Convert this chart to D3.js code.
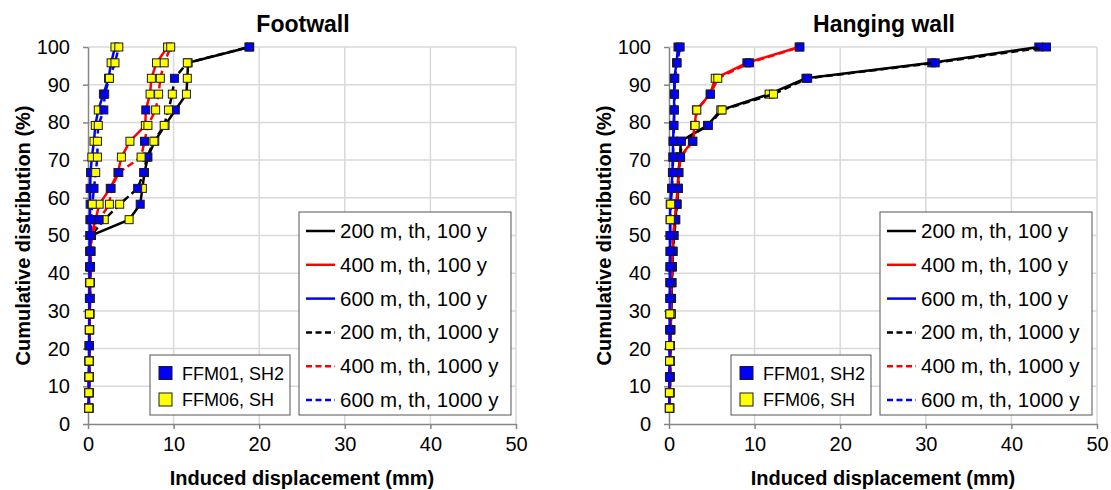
<!DOCTYPE html>
<html>
<head>
<meta charset="utf-8">
<script src="https://cdnjs.cloudflare.com/ajax/libs/d3/7.8.5/d3.min.js"></script>
<style>
body { margin: 0; background: #fff; }
svg { font-family: Arial, "Liberation Sans", sans-serif; }
</style>
</head>
<body>
<script>
// cumulative distribution (%), one level per ranked fracture
var levels = [4.2, 8.3, 12.5, 16.7, 20.8, 25, 29.2, 33.3, 37.5, 41.7, 45.8, 50,
	54.2, 58.3, 62.5, 66.7, 70.8, 75, 79.2, 83.3, 87.5, 91.7, 95.8, 100];

var seriesNames = ["200 m, th, 100 y", "400 m, th, 100 y", "600 m, th, 100 y",
	"200 m, th, 1000 y", "400 m, th, 1000 y", "600 m, th, 1000 y"];
var domainNames = ["FFM01, SH2", "FFM06, SH"];
var xTicks = [0, 10, 20, 30, 40, 50];
var yTicks = [0, 10, 20, 30, 40, 50, 60, 70, 80, 90, 100];

// Footwall - induced displacement (mm)
var fw200_100  = [0.1, 0.12, 0.14, 0.15, 0.17, 0.19, 0.2, 0.22, 0.24, 0.27, 0.3, 0.35, 4.8, 6.1, 6.35, 6.6, 7.0, 7.8, 9.0, 10.2, 11.5, 11.6, 11.7, 18.9];
var fw400_100  = [0.09, 0.11, 0.13, 0.14, 0.16, 0.18, 0.2, 0.23, 0.26, 0.29, 0.32, 0.35, 0.9, 1.3, 2.6, 3.5, 3.9, 4.9, 6.7, 6.75, 7.25, 7.4, 8.0, 9.3];
var fw600_100  = [0.08, 0.1, 0.11, 0.12, 0.13, 0.14, 0.15, 0.16, 0.17, 0.18, 0.19, 0.2, 0.22, 0.25, 0.25, 0.3, 0.45, 0.7, 0.85, 1.2, 1.8, 2.4, 2.7, 3.15];
var fw200_1000 = [0.1, 0.11, 0.13, 0.15, 0.16, 0.18, 0.2, 0.22, 0.25, 0.28, 0.32, 0.36, 1.9, 3.7, 5.8, 6.5, 6.9, 7.7, 8.9, 9.4, 9.85, 10.1, 11.6, 18.8];
var fw400_1000 = [0.1, 0.12, 0.13, 0.15, 0.17, 0.19, 0.21, 0.23, 0.26, 0.3, 0.34, 0.4, 1.3, 2.5, 2.7, 3.6, 6.2, 6.6, 7.0, 7.9, 8.25, 8.45, 8.9, 9.66];
var fw600_1000 = [0.09, 0.1, 0.12, 0.13, 0.15, 0.16, 0.18, 0.2, 0.22, 0.24, 0.27, 0.3, 0.35, 0.5, 0.7, 0.9, 1.1, 1.1, 1.2, 1.85, 1.95, 2.5, 3.15, 3.6];

// Hanging wall - induced displacement (mm)
var hw200_100  = [0.08, 0.1, 0.12, 0.14, 0.17, 0.2, 0.24, 0.28, 0.33, 0.38, 0.45, 0.55, 0.75, 0.9, 1.05, 1.1, 1.3, 1.37, 4.5, 6.05, 11.7, 16.0, 30.7, 43.2];
var hw400_100  = [0.07, 0.09, 0.11, 0.13, 0.15, 0.18, 0.21, 0.25, 0.29, 0.34, 0.4, 0.5, 0.65, 0.85, 1.0, 1.1, 1.3, 2.73, 3.0, 3.2, 4.8, 5.4, 9.1, 15.2];
var hw600_100  = [0.03, 0.04, 0.05, 0.06, 0.07, 0.08, 0.09, 0.1, 0.1, 0.11, 0.12, 0.12, 0.13, 0.14, 0.3, 0.4, 0.45, 0.47, 0.55, 0.6, 0.6, 0.62, 0.88, 1.05];
var hw200_1000 = [0.09, 0.11, 0.13, 0.15, 0.18, 0.21, 0.25, 0.3, 0.35, 0.4, 0.48, 0.6, 0.8, 0.95, 1.1, 1.15, 1.35, 1.45, 4.6, 6.2, 12.2, 16.2, 31.1, 44.1];
var hw400_1000 = [0.08, 0.1, 0.12, 0.14, 0.16, 0.19, 0.22, 0.26, 0.3, 0.36, 0.42, 0.52, 0.7, 0.9, 1.05, 1.15, 1.35, 2.8, 3.05, 3.25, 4.85, 5.7, 9.4, 15.3];
var hw600_1000 = [0.04, 0.05, 0.06, 0.07, 0.08, 0.09, 0.1, 0.11, 0.12, 0.12, 0.13, 0.14, 0.15, 0.2, 0.35, 0.42, 0.48, 0.5, 0.58, 0.62, 0.65, 0.68, 0.95, 1.3];

// fracture domain of each ranked point: 1 = FFM01, 6 = FFM06
var fw200_100Dom  = "666166161611616116616661";
var fw400_100Dom  = "666616166111161166616666";
var fw600_100Dom  = "666616616111111166661666";
var fw200_1000Dom = "666166161611661116666161";
var fw400_1000Dom = "666616166111161161666666";
var fw600_1000Dom = "666616616111161666611666";

var hw200_100Dom  = "661661611111111111166111";
var hw400_100Dom  = "661661611111111111661611";
var hw600_100Dom  = "661661611111661111111111";
var hw200_1000Dom = "661661611111111111166111";
var hw400_1000Dom = "661661611111111111661611";
var hw600_1000Dom = "661661611111661111111111";

var lineColors = ["#000000", "#ff0000", "#0000ff", "#000000", "#ff0000", "#0000ff"];
var lineDash = [null, null, null, "7,4", "7,4", "7,4"];
var domFill = {"1": "#0000ff", "6": "#ffff00"};

var w = 1111;
var h = 490;

var svg = d3.select("body")
	.append("svg")
	.attr("width", w)
	.attr("height", h);

svg.append("rect").attr("width", w).attr("height", h).attr("fill", "#fff");

function drawPanel(left, title, xs, doms) {
	var x = d3.scaleLinear().domain([0, 50]).range([left, left + 428]);
	var y = d3.scaleLinear().domain([0, 100]).range([424, 47]);

	var g = svg.append("g");

	// grid
	g.selectAll("line.gx")
		.data(xTicks.slice(1))
		.enter()
		.append("line")
		.attr("x1", function(d) { return x(d); })
		.attr("x2", function(d) { return x(d); })
		.attr("y1", y(0))
		.attr("y2", y(100))
		.attr("stroke", "#d9d9d9")
		.attr("stroke-width", 1.5);

	g.selectAll("line.gy")
		.data(yTicks.slice(1))
		.enter()
		.append("line")
		.attr("x1", x(0))
		.attr("x2", x(50))
		.attr("y1", function(d) { return y(d); })
		.attr("y2", function(d) { return y(d); })
		.attr("stroke", "#d9d9d9")
		.attr("stroke-width", 1.5);

	// axes
	var yAxis = g.append("g")
		.attr("transform", "translate(" + x(0) + ",0)")
		.call(d3.axisLeft(y).tickValues(yTicks).tickSize(5).tickSizeOuter(0).tickPadding(13));
	var xAxis = g.append("g")
		.attr("transform", "translate(0," + y(0) + ")")
		.call(d3.axisBottom(x).tickValues(xTicks).tickSize(5).tickSizeOuter(0).tickPadding(8));

	[yAxis, xAxis].forEach(function(a) {
		a.select(".domain").attr("stroke", "#868686").attr("stroke-width", 1.5);
		a.selectAll(".tick line").attr("stroke", "#868686").attr("stroke-width", 1.5);
		a.selectAll(".tick text")
			.attr("fill", "#000")
			.style("font-size", "20px")
			.style("font-family", "Arial, 'Liberation Sans', sans-serif");
	});

	// series: line first, then its markers
	var line = d3.line()
		.x(function(d) { return x(d[0]); })
		.y(function(d) { return y(d[1]); });

	xs.forEach(function(vals, i) {
		var pts = vals.map(function(v, k) { return [v, levels[k], doms[i].charAt(k)]; });
		g.append("path")
			.datum(pts)
			.attr("fill", "none")
			.attr("stroke", lineColors[i])
			.attr("stroke-width", 2.5)
			.attr("stroke-dasharray", lineDash[i])
			.attr("d", line);
		g.selectAll("rect.m" + i)
			.data(pts)
			.enter()
			.append("rect")
			.attr("x", function(d) { return x(d[0]) - 4; })
			.attr("y", function(d) { return y(d[1]) - 4; })
			.attr("width", 8)
			.attr("height", 8)
			.attr("fill", function(d) { return domFill[d[2]]; })
			.attr("stroke", "#1a1a1a")
			.attr("stroke-width", 1);
	});

	// titles
	var cx = (x(0) + x(50)) / 2;
	g.append("text")
		.attr("x", cx + 1)
		.attr("y", 32)
		.attr("text-anchor", "middle")
		.style("font-size", "23px")
		.style("font-weight", "bold")
		.text(title);
	g.append("text")
		.attr("x", cx)
		.attr("y", 485)
		.attr("text-anchor", "middle")
		.style("font-size", "20px")
		.style("font-weight", "bold")
		.text("Induced displacement (mm)");
	g.append("text")
		.attr("transform", "translate(" + (x(0) - 65) + "," + y(50) + ") rotate(-90)")
		.attr("dy", "0.35em")
		.attr("text-anchor", "middle")
		.style("font-size", "20px")
		.style("font-weight", "bold")
		.text("Cumulative distribution (%)");

	// line legend
	var lg = g.append("g").attr("transform", "translate(" + (x(0) + 211) + ",212)");
	lg.append("rect")
		.attr("width", 212)
		.attr("height", 203)
		.attr("fill", "#fff")
		.attr("stroke", "#555")
		.attr("stroke-width", 1);
	seriesNames.forEach(function(name, i) {
		var ly = 19 + i * 33.8;
		lg.append("line")
			.attr("x1", 7).attr("x2", 36)
			.attr("y1", ly).attr("y2", ly)
			.attr("stroke", lineColors[i])
			.attr("stroke-width", 2.5)
			.attr("stroke-dasharray", lineDash[i] ? "6,3.5" : null);
		lg.append("text")
			.attr("x", 41)
			.attr("y", ly + 7)
			.style("font-size", "20.5px")
			.text(name);
	});

	// domain legend
	var dg = g.append("g").attr("transform", "translate(" + (x(0) + 62) + ",355)");
	dg.append("rect")
		.attr("width", 140)
		.attr("height", 60)
		.attr("fill", "#fff")
		.attr("stroke", "#555")
		.attr("stroke-width", 1);
	domainNames.forEach(function(name, i) {
		var ly = 18 + i * 26.5;
		dg.append("rect")
			.attr("x", 9).attr("y", ly - 6.5)
			.attr("width", 13).attr("height", 13)
			.attr("fill", i === 0 ? domFill["1"] : domFill["6"])
			.attr("stroke", "#1a1a1a")
			.attr("stroke-width", 1);
		dg.append("text")
			.attr("x", 32)
			.attr("y", ly + 6.5)
			.style("font-size", "18px")
			.text(name);
	});
}

drawPanel(88, "Footwall",
	[fw200_100, fw400_100, fw600_100, fw200_1000, fw400_1000, fw600_1000],
	[fw200_100Dom, fw400_100Dom, fw600_100Dom, fw200_1000Dom, fw400_1000Dom, fw600_1000Dom]);

drawPanel(669, "Hanging wall",
	[hw200_100, hw400_100, hw600_100, hw200_1000, hw400_1000, hw600_1000],
	[hw200_100Dom, hw400_100Dom, hw600_100Dom, hw200_1000Dom, hw400_1000Dom, hw600_1000Dom]);
</script>
</body>
</html>
